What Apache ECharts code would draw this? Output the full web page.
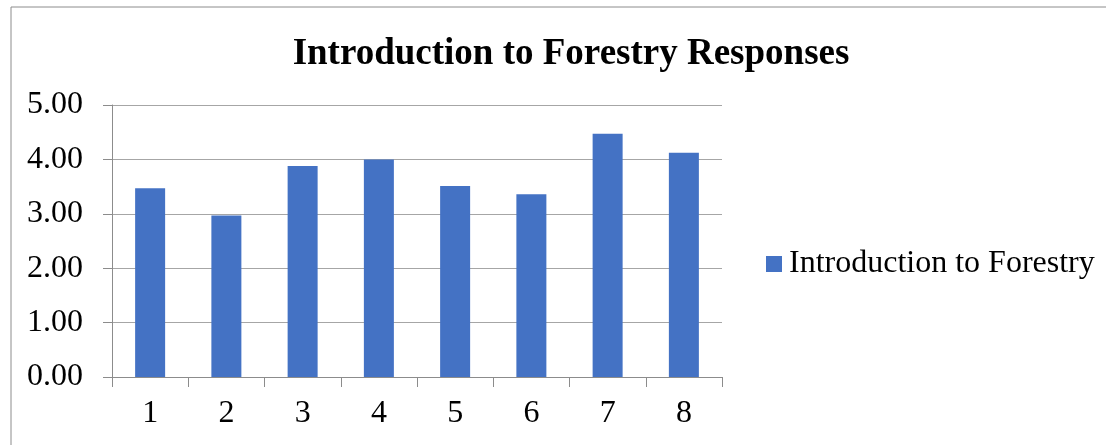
<!DOCTYPE html>
<html>
<head>
<meta charset="utf-8">
<script src="https://cdn.jsdelivr.net/npm/echarts@6/dist/echarts.min.js"></script>
<style>
  html, body { margin: 0; padding: 0; background: #fff; }
  #plot { width: 1106px; height: 445px; }
</style>
</head>
<body>
<div id="plot"></div>
<script>
// 数据
var categories = ['1', '2', '3', '4', '5', '6', '7', '8'];
var seriesName = 'Introduction to Forestry';
var values = [3.47, 2.97, 3.88, 4.00, 3.51, 3.36, 4.47, 4.12];

var serif = '"Liberation Serif", "Times New Roman", serif';

var myChart = echarts.init(document.getElementById('plot'));

var option = {
  backgroundColor: '#fff',
  animation: false,
  title: {
    text: 'Introduction to Forestry Responses',
    left: 566,
    textAlign: 'center',
    top: 31,
    textStyle: { fontFamily: serif, fontSize: 37, fontWeight: 'bold', color: '#000' }
  },
  legend: {
    left: 761,
    top: 243,
    itemWidth: 16,
    itemHeight: 16,
    itemGap: 0,
    textStyle: { fontFamily: serif, fontSize: 32, color: '#000', padding: [0, 0, 0, 2] },
    data: [{ name: seriesName, icon: 'rect' }]
  },
  grid: { left: 112, right: 384, top: 105, bottom: 68 },
  xAxis: {
    type: 'category',
    data: categories,
    axisLine: { lineStyle: { color: '#8c8c8c' } },
    axisTick: { show: true, length: 10, lineStyle: { color: '#8c8c8c' } },
    axisLabel: { fontFamily: serif, fontSize: 32, color: '#000', margin: 21 }
  },
  yAxis: {
    type: 'value',
    min: 0,
    max: 5,
    interval: 1,
    axisLine: { show: true, lineStyle: { color: '#8c8c8c' } },
    axisTick: { show: true, length: 9, lineStyle: { color: '#8c8c8c' } },
    axisLabel: {
      fontFamily: serif, fontSize: 32, color: '#000', margin: 29,
      formatter: function (v) { return v.toFixed(2); }
    },
    splitLine: { lineStyle: { color: '#a6a6a6' } }
  },
  graphic: [{
    type: 'rect',
    shape: { x: 11, y: 7, width: 1200, height: 600 },
    style: { fill: 'none', stroke: '#8c8c8c', lineWidth: 1 },
    z: -1
  }],
  series: [{
    name: seriesName,
    type: 'bar',
    data: values,
    barWidth: 30,
    itemStyle: { color: '#4472C4' }
  }]
};

myChart.setOption(option);
</script>
</body>
</html>
